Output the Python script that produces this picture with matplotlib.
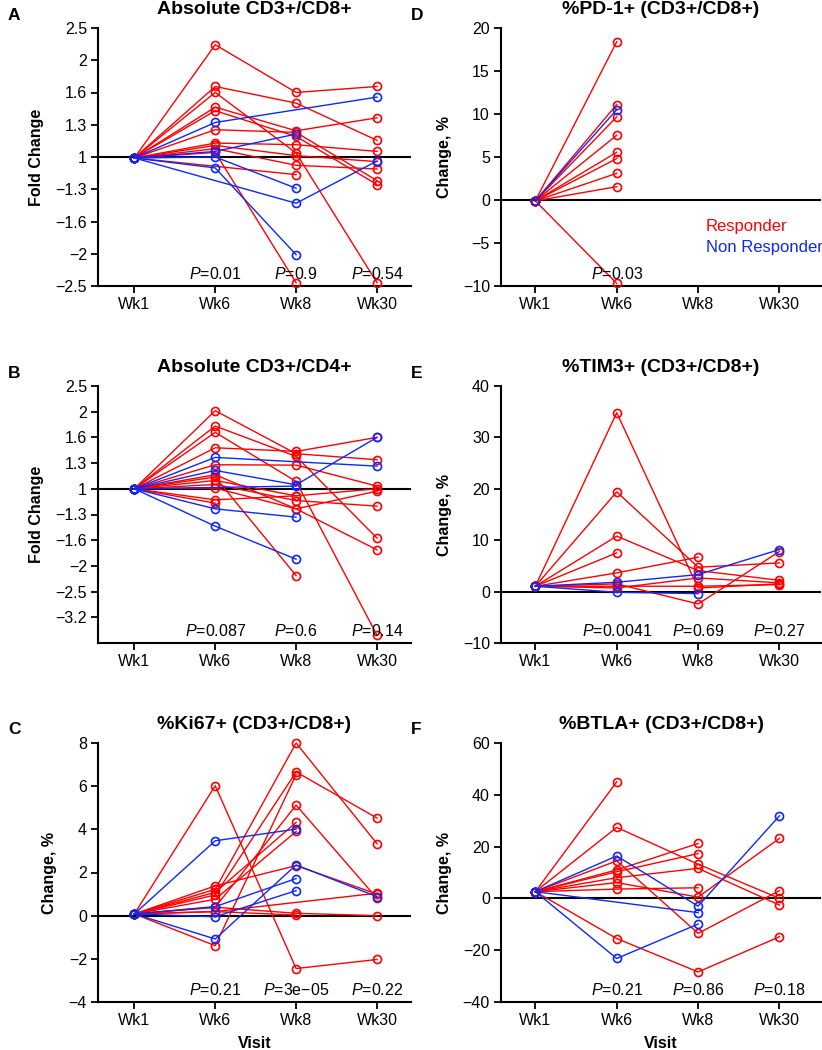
import numpy as np
import matplotlib
matplotlib.use("Agg")
import matplotlib.pyplot as plt

plt.rcParams["font.family"] = ["Liberation Sans", "DejaVu Sans"]
plt.rcParams["mathtext.fontset"] = "custom"
plt.rcParams["mathtext.rm"] = "Liberation Sans"
plt.rcParams["mathtext.it"] = "Liberation Sans:italic"

visits = ["Wk1", "Wk6", "Wk8", "Wk30"]
visit_x = [1, 2, 3, 4]
nan = np.nan

# fold change panels: values in log2 units, ticks every 1/3 log2
fold_ticklabels_A = ["−2.5", "−2", "−1.6", "−1.3", "1", "1.3", "1.6", "2", "2.5"]
fold_ticklabels_B = ["−3.2", "−2.5", "−2", "−1.6", "−1.3", "1", "1.3", "1.6", "2", "2.5"]

# A: Absolute CD3+/CD8+ (log2 fold change)
A_resp = [
    [-0.01, 1.16, 0.667, 0.729],
    [-0.01, 0.729, 0.557, 0.172],
    [-0.01, 0.667, 0.041, -1.3],
    [-0.01, 0.515, 0.271, 0.405],
    [-0.01, 0.478, 0.213, -0.285],
    [-0.01, 0.282, 0.254, -0.244],
    [-0.01, 0.144, 0.127, 0.058],
    [-0.01, 0.12, 0.014, -0.048],
    [-0.01, 0.086, -0.086, -0.124],
    [-0.01, 0.048, -1.3, nan],
    [-0.01, nan, -0.182, nan],
]
A_nonresp = [
    [-0.01, 0.357, nan, 0.619],
    [-0.01, 0.058, 0.237, nan],
    [-0.01, 0.0, -0.323, nan],
    [-0.01, -0.113, -1.01, nan],
    [-0.01, nan, -0.478, -0.041],
]
A_pvals = ["0.01", "0.9", "0.54"]

# B: Absolute CD3+/CD4+ (log2 fold change)
B_resp = [
    [0, 1.013, 0.455, 0.377],
    [0, 0.814, 0.42, -0.64],
    [0, 0.732, 0.095, -1.9],
    [0, 0.532, 0.485, 0.667],
    [0, 0.312, 0.307, 0.035],
    [0, 0.182, -0.26, -0.792],
    [0, 0.152, -1.126, nan],
    [0, 0.108, -0.091, 0.0],
    [0, 0.056, -0.152, -0.225],
    [0, 0.009, -0.26, -0.03],
    [0, -0.143, -0.091, nan],
    [0, -0.186, nan, nan],
]
B_nonresp = [
    [0, 0.407, nan, 0.294],
    [0, 0.238, 0.052, 0.667],
    [0, -0.26, -0.368, nan],
    [0, -0.485, -0.913, nan],
    [0, nan, 0.035, nan],
]
B_pvals = ["0.087", "0.6", "0.14"]

# C: %Ki67+ (CD3+/CD8+)
C_resp = [
    [0.08, 6.02, -2.45, -2.03],
    [0.08, 1.22, 8.0, 3.33],
    [0.08, 0.96, 6.66, 4.52],
    [0.08, -1.39, 6.53, nan],
    [0.08, 0.39, 5.12, 0.8],
    [0.08, 1.08, 4.32, nan],
    [0.08, 0.76, 3.9, nan],
    [0.08, 1.38, 2.32, 1.0],
    [0.08, 0.19, nan, 1.04],
    [0.08, 0.39, 0.11, 0.0],
    [0.08, 0.19, 0.03, nan],
]
C_nonresp = [
    [0.08, 3.47, 4.01, nan],
    [0.08, 0.42, 1.72, nan],
    [0.08, -0.05, 1.16, nan],
    [0.08, -1.08, 2.35, 0.88],
]
C_pvals = ["0.21", "3e−05", "0.22"]

# D: %PD-1+ (CD3+/CD8+)
D_resp = [
    [-0.1, 18.4, nan, nan],
    [-0.1, 11.1, nan, nan],
    [-0.1, 9.67, nan, nan],
    [-0.1, 7.53, nan, nan],
    [-0.1, 5.55, nan, nan],
    [-0.1, 4.82, nan, nan],
    [-0.1, 3.1, nan, nan],
    [-0.1, 1.55, nan, nan],
    [-0.1, -9.7, nan, nan],
]
D_nonresp = [
    [-0.1, 10.5, nan, nan],
]
D_pvals = ["0.03"]

# E: %TIM3+ (CD3+/CD8+)
E_resp = [
    [1.04, 34.8, 0.7, 1.5],
    [1.04, 19.4, 4.74, 5.58],
    [1.04, 10.8, 4.09, 2.2],
    [1.04, 7.53, nan, nan],
    [1.04, 3.64, 6.69, nan],
    [1.04, 1.5, -2.4, 7.8],
    [1.04, 1.04, 1.04, 1.36],
    [1.04, 0.7, 2.66, 1.69],
]
E_nonresp = [
    [1.04, 1.82, 3.31, 8.18],
    [1.04, -0.13, -0.39, nan],
]
E_pvals = ["0.0041", "0.69", "0.27"]

# F: %BTLA+ (CD3+/CD8+)
F_resp = [
    [2.6, 45.0, nan, nan],
    [2.6, 27.4, 13.2, 0.0],
    [2.6, 14.5, -13.5, 3.0],
    [2.6, 11.0, 21.2, nan],
    [2.6, 10.3, 17.3, nan],
    [2.6, 8.0, 11.6, -2.6],
    [2.6, 6.1, 0.5, 23.2],
    [2.6, 3.6, 4.1, nan],
    [2.6, -15.5, -28.4, -14.8],
]
F_nonresp = [
    [2.6, 16.4, -3.0, 31.9],
    [2.6, -23.2, -9.9, nan],
    [2.6, nan, -5.5, nan],
]
F_pvals = ["0.21", "0.86", "0.18"]

RED = "#ff0000"
BLUE = "#0a28ff"
W, H = 822, 1050

fig = plt.figure(figsize=(W / 100, H / 100), dpi=100)


def make_axes(x0, x1, y0, y1):
    return fig.add_axes([x0 / W, 1 - y1 / H, (x1 - x0) / W, (y1 - y0) / H])


def draw_panel(ax, resp, nonresp, pvals, title, letter, ylabel, xlim, ylim,
               yticks, yticklabels=None, xlabel=None):
    for group, col in ((resp, RED), (nonresp, BLUE)):
        for row in group:
            vals = np.array(row, dtype=float)
            xs = np.array(visit_x, dtype=float)
            m = ~np.isnan(vals)
            ax.plot(xs[m], vals[m], color=col, lw=1.0, marker="o", ms=5.8,
                    mfc="none", mec=col, mew=1.2, clip_on=False, zorder=3)
    ax.axhline(0, color="black", lw=1.5, zorder=2)
    ax.set_xlim(*xlim)
    ax.set_ylim(*ylim)
    ax.set_xticks(visit_x)
    ax.set_xticklabels(visits)
    ax.set_yticks(yticks)
    if yticklabels is not None:
        ax.set_yticklabels(yticklabels)
    for s in ("top", "right"):
        ax.spines[s].set_visible(False)
    for s in ("left", "bottom"):
        ax.spines[s].set_linewidth(1.5)
    ax.tick_params(direction="out", length=5, width=1.3, labelsize=11.5, pad=3)
    ax.set_ylabel(ylabel, fontsize=11.5, fontweight="bold", labelpad=8)
    if xlabel:
        ax.set_xlabel(xlabel, fontsize=11.5, fontweight="bold", labelpad=6)
    ax.set_title(title, fontsize=14, fontweight="bold", pad=10)
    for i, p in enumerate(pvals):
        ax.text(visit_x[i + 1], 0.045, r"$P$=" + p, transform=ax.get_xaxis_transform(),
                ha="center", va="center", fontsize=11.5, zorder=4)
    bb = ax.get_position()
    fig.text(bb.x0 - 90 / W, bb.y1 + 13 / H, letter, fontsize=12.5,
             fontweight="bold", ha="left", va="center")


left_xlim = (0.551, 4.42)
right_xlim = (0.578, 4.51)
rows = [(28, 286), (386, 643), (743, 1002)]

axA = make_axes(98, 411, *rows[0])
draw_panel(axA, A_resp, A_nonresp, A_pvals, "Absolute CD3+/CD8+", "A", "Fold Change",
           left_xlim, (-4 / 3, 4 / 3), np.arange(-4, 5) / 3, fold_ticklabels_A)

axB = make_axes(98, 411, *rows[1])
draw_panel(axB, B_resp, B_nonresp, B_pvals, "Absolute CD3+/CD4+", "B", "Fold Change",
           left_xlim, (-2, 4 / 3), np.arange(-5, 5) / 3, fold_ticklabels_B)

axC = make_axes(98, 411, *rows[2])
draw_panel(axC, C_resp, C_nonresp, C_pvals, "%Ki67+ (CD3+/CD8+)", "C", "Change, %",
           left_xlim, (-4, 8), np.arange(-4, 9, 2), xlabel="Visit")

axD = make_axes(501, 821, *rows[0])
draw_panel(axD, D_resp, D_nonresp, D_pvals, "%PD-1+ (CD3+/CD8+)", "D", "Change, %",
           right_xlim, (-10, 20), np.arange(-10, 21, 5))
axD.text(0.64, 0.229, "Responder", color=RED, fontsize=12, transform=axD.transAxes,
         ha="left", va="center")
axD.text(0.64, 0.151, "Non Responder", color=BLUE, fontsize=12, transform=axD.transAxes,
         ha="left", va="center")

axE = make_axes(501, 821, *rows[1])
draw_panel(axE, E_resp, E_nonresp, E_pvals, "%TIM3+ (CD3+/CD8+)", "E", "Change, %",
           right_xlim, (-10, 40), np.arange(-10, 41, 10))

axF = make_axes(501, 821, *rows[2])
draw_panel(axF, F_resp, F_nonresp, F_pvals, "%BTLA+ (CD3+/CD8+)", "F", "Change, %",
           right_xlim, (-40, 60), np.arange(-40, 61, 20), xlabel="Visit")

fig.savefig("out.png", dpi=100)
